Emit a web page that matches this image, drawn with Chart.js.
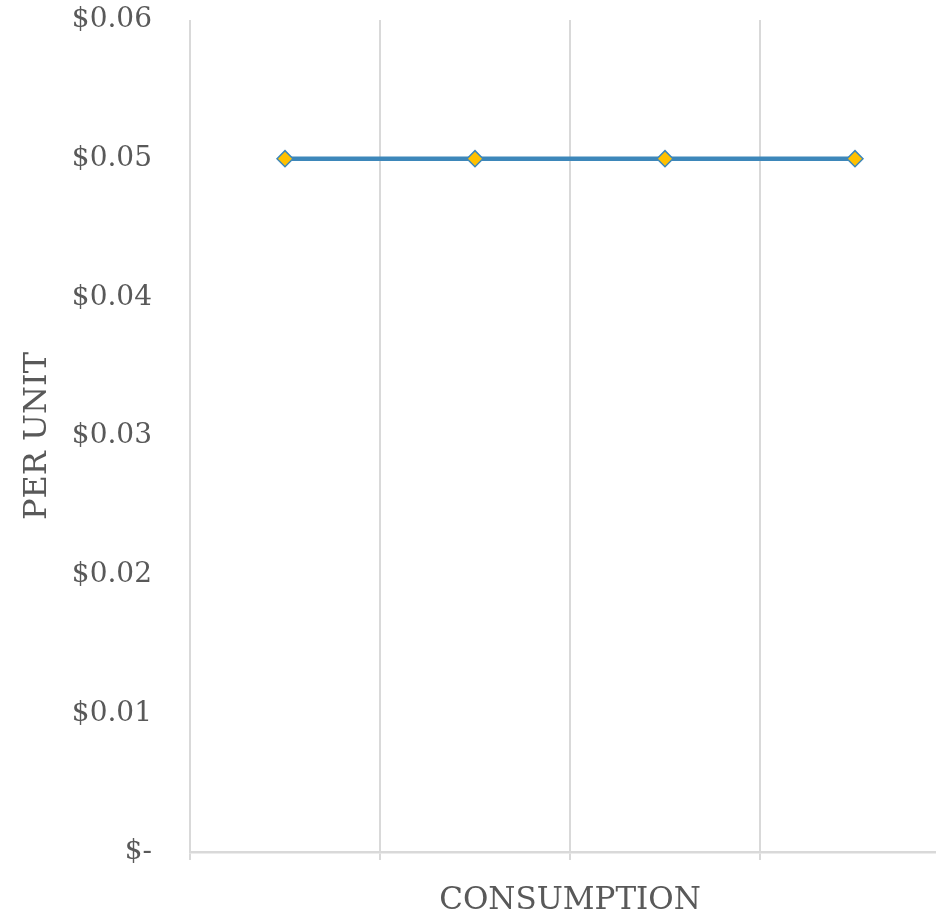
<!DOCTYPE html>
<html>
<head>
    <script src="https://cdn.jsdelivr.net/npm/chart.js@4/dist/chart.umd.min.js"></script>
    <style>
        html, body { margin: 0; padding: 0; background: #fff; overflow: hidden; }
        #wrap { position: relative; width: 960px; height: 914px; }
    </style>
</head>
<body>
    <div id="wrap"><canvas id="chart"></canvas></div>
<script>
    // data
    var categories = ['1', '2', '3', '4'];
    var perUnit = [0.05, 0.05, 0.05, 0.05];
    var yTicks = [0, 0.01, 0.02, 0.03, 0.04, 0.05, 0.06];

    var textColor = '#595959';
    var gridColor = '#d9d9d9';
    var font = 'DejaVu Serif';

    new Chart('chart', {
        type: 'line',
        data: {
            labels: categories,
            datasets: [{
                data: perUnit,
                borderColor: '#3d87ba',
                borderWidth: 4.5,
                pointStyle: 'rectRot',
                pointRadius: 8,
                pointHoverRadius: 8,
                pointBackgroundColor: '#ffc000',
                pointBorderColor: '#3d87ba',
                pointBorderWidth: 1.5,
                tension: 0
            }]
        },
        options: {
            responsive: true,
            maintainAspectRatio: false,
            animation: false,
            layout: { padding: { top: 20, right: 10, bottom: 0, left: 22 } },
            plugins: { legend: { display: false }, tooltip: { enabled: false } },
            scales: {
                x: {
                    type: 'category',
                    offset: true,
                    grid: { offset: true, color: gridColor, lineWidth: 2, drawTicks: true, tickLength: 8 },
                    border: { display: true, color: gridColor, width: 2.5 },
                    ticks: { display: false },
                    title: {
                        display: true, text: 'CONSUMPTION', color: textColor,
                        font: { family: font, size: 31, lineHeight: 0.85 }, padding: 0
                    },
                    afterFit: function (s) { s.height = 62; }
                },
                y: {
                    min: yTicks[0],
                    max: yTicks[yTicks.length - 1],
                    afterBuildTicks: function (s) { s.ticks = yTicks.map(function (v) { return { value: v }; }); },
                    grid: { display: false, drawTicks: false },
                    border: { display: false },
                    ticks: {
                        color: textColor, padding: 38,
                        font: { family: font, size: 28 },
                        callback: function (v) { return v === 0 ? '$-' : '$' + v.toFixed(2); }
                    },
                    title: {
                        display: true, text: 'PER UNIT', color: textColor,
                        font: { family: font, size: 32, lineHeight: 1 }, padding: 0
                    },
                    afterFit: function (s) {
                        s.width = 168;
                        s.paddingTop = 0;
                        s.paddingBottom = 0;
                    }
                }
            }
        }
    });
</script>
</body>
</html>
